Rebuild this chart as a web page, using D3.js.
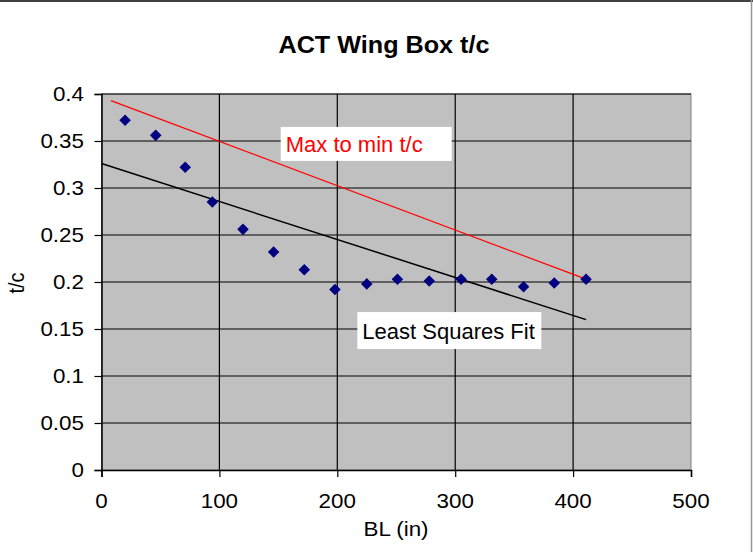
<!DOCTYPE html>
<html>
<head>
<meta charset="utf-8">
<script src="https://cdn.jsdelivr.net/npm/d3@7"></script>
<style>
  html, body { margin: 0; padding: 0; background: #fff; }
  svg { display: block; font-family: "Liberation Sans", Arial, Helvetica, sans-serif; }
</style>
</head>
<body>
<svg id="chart" width="753" height="559"></svg>
<script>
// ---- data ----
const title = "ACT Wing Box t/c";
const xLabel = "BL (in)";
const yLabel = "t/c";
const blValues = [20, 46, 71, 94, 120, 146, 172, 198, 225, 251, 278, 305, 331, 358, 384, 411];
const tcValues = [0.372, 0.356, 0.322, 0.285, 0.256, 0.232, 0.213, 0.192, 0.198, 0.203, 0.201, 0.203, 0.203, 0.195, 0.199, 0.203];
const maxMinLine = [[8, 0.393], [411, 0.203]];
const leastSquaresLine = [[0, 0.326], [411, 0.160]];
const xTicks = [0, 100, 200, 300, 400, 500];
const yTicks = [0, 0.05, 0.1, 0.15, 0.2, 0.25, 0.3, 0.35, 0.4];
const annotations = [
  { text: "Max to min t/c", x: 152, y: 0.365, color: "#ff0000", w: 171, h: 34 },
  { text: "Least Squares Fit", x: 217, y: 0.168, color: "#000000", w: 184, h: 37 }
];

// ---- layout ----
const svg = d3.select("#chart");
const L = 101.5, R = 691, T = 94, B = 470;
const x = d3.scaleLinear().domain([0, 500]).range([L, R]);
const y = d3.scaleLinear().domain([0, 0.4]).range([B, T]);

// chart border
svg.append("line").attr("x1", 0).attr("x2", 753).attr("y1", 1).attr("y2", 1)
  .attr("stroke", "#000").attr("stroke-width", 1.5);
svg.append("line").attr("x1", 751.5).attr("x2", 751.5).attr("y1", 0).attr("y2", 552)
  .attr("stroke", "#999").attr("stroke-width", 1.5);

// plot background
svg.append("rect").attr("x", L).attr("y", T).attr("width", R - L).attr("height", B - T)
  .attr("fill", "#c0c0c0").attr("stroke", "#808080").attr("stroke-width", 1);

// gridlines
svg.append("g").selectAll("line").data(yTicks.filter(d => d > 0)).join("line")
  .attr("x1", L).attr("x2", R).attr("y1", d => y(d)).attr("y2", d => y(d))
  .attr("stroke", "#000").attr("stroke-width", 1.2);
svg.append("g").selectAll("line").data(xTicks.filter(d => d > 0 && d < 500)).join("line")
  .attr("y1", T).attr("y2", B).attr("x1", d => x(d)).attr("x2", d => x(d))
  .attr("stroke", "#000").attr("stroke-width", 1.2);

// axes
const yAxis = svg.append("g").attr("transform", `translate(${L},0)`)
  .call(d3.axisLeft(y).tickValues(yTicks).tickSize(7).tickFormat(d3.format("~g")));
const xAxis = svg.append("g").attr("transform", `translate(0,${B})`)
  .call(d3.axisBottom(x).tickValues(xTicks).tickSize(7).tickFormat(d3.format("d")));
[yAxis, xAxis].forEach(a => {
  a.select(".domain").attr("stroke", "#000").attr("stroke-width", 1.5);
  a.selectAll(".tick line").attr("stroke", "#000").attr("stroke-width", 1.2);
  a.selectAll(".tick text").remove();
});

// tick labels (horizontally stretched like the reference)
const stretch = 1.12;
const fs = 20;
svg.append("g").selectAll("text").data(yTicks).join("text")
  .attr("transform", d => `translate(84,${y(d) + 7}) scale(${stretch},1)`)
  .attr("text-anchor", "end").attr("font-size", fs).attr("fill", "#000")
  .text(d => d3.format("~g")(d));
svg.append("g").selectAll("text").data(xTicks).join("text")
  .attr("transform", d => `translate(${x(d)},${B + 38}) scale(${stretch},1)`)
  .attr("text-anchor", "middle").attr("font-size", fs).attr("fill", "#000")
  .text(d => d);

// lines
const lineGen = d3.line().x(d => x(d[0])).y(d => y(d[1]));
svg.append("path").datum(maxMinLine).attr("d", lineGen)
  .attr("stroke", "#ff0000").attr("stroke-width", 1.2).attr("fill", "none");
svg.append("path").datum(leastSquaresLine).attr("d", lineGen)
  .attr("stroke", "#000").attr("stroke-width", 1.5).attr("fill", "none");

// points
const pts = blValues.map((b, i) => [b, tcValues[i]]);
svg.append("g").selectAll("path").data(pts).join("path")
  .attr("transform", d => `translate(${x(d[0])},${y(d[1])})`)
  .attr("d", d3.symbol().type(d3.symbolDiamond2).size(85))
  .attr("fill", "#000080");

// annotations
annotations.forEach(a => {
  const g = svg.append("g").attr("transform", `translate(${x(a.x)},${y(a.y)})`);
  g.append("rect").attr("width", a.w).attr("height", a.h).attr("fill", "#fff");
  g.append("text").attr("x", 5).attr("y", a.h / 2 + 8).attr("font-size", 22)
    .attr("fill", a.color).text(a.text);
});

// titles
svg.append("text").attr("transform", "translate(384,53) scale(1.05,1)").attr("text-anchor", "middle")
  .attr("font-size", 24).attr("font-weight", "bold").attr("fill", "#000").text(title);
svg.append("text").attr("transform", `translate(396,536) scale(${stretch},1)`)
  .attr("text-anchor", "middle").attr("font-size", fs).attr("fill", "#000").text(xLabel);
svg.append("text").attr("transform", `translate(24,283) rotate(-90) scale(1,${stretch})`)
  .attr("text-anchor", "middle").attr("font-size", fs).attr("fill", "#000").text(yLabel);
</script>
</body>
</html>
